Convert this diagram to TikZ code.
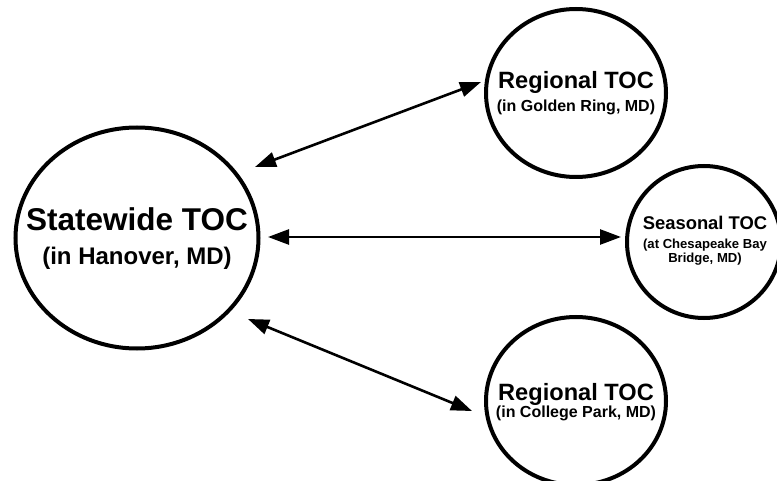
\documentclass[tikz,border=0pt]{standalone}
\usepackage{fontspec}
\setmainfont{Liberation Sans}
\usetikzlibrary{shapes.geometric,arrows.meta}
\begin{document}
\begin{tikzpicture}[x=1pt,y=-1pt,
  toc/.style={draw=black,line width=4pt,ellipse,inner sep=0pt,fill=none},
  lbl/.style={anchor=base,inner sep=0pt,font=\bfseries},
  link/.style={line width=2.6pt,{Triangle[length=21pt,width=15pt]}-{Triangle[length=21pt,width=15pt]}}]
  \useasboundingbox (0,0) rectangle (777,481);

  % centres
  \node[toc,minimum width=243pt,minimum height=221pt] (state) at (137,238) {};
  \node[toc,minimum width=180pt,minimum height=168pt] (golden) at (576,93) {};
  \node[toc,minimum width=154pt,minimum height=152pt] (season) at (704,242) {};
  \node[toc,minimum width=180pt,minimum height=168pt] (college) at (576,401) {};

  % labels
  \node[lbl,font=\bfseries\fontsize{31.5}{36}\selectfont] (stateA) at (137,231) {Statewide TOC};
  \node[lbl,font=\bfseries\fontsize{24}{28}\selectfont] (stateB) at (137,265) {(in Hanover, MD)};

  \node[lbl,font=\bfseries\fontsize{23.6}{28}\selectfont] (goldenA) at (576,89) {Regional TOC};
  \node[lbl,font=\bfseries\fontsize{16}{19}\selectfont] (goldenB) at (576,112) {(in Golden Ring, MD)};

  \node[lbl,font=\bfseries\fontsize{18.4}{22}\selectfont] (seasonA) at (705,230) {Seasonal TOC};
  \node[lbl,font=\bfseries\fontsize{13.1}{15}\selectfont] (seasonB) at (705,249) {(at Chesapeake Bay};
  \node[lbl,font=\bfseries\fontsize{13.1}{15}\selectfont] (seasonC) at (705,263) {Bridge, MD)};

  \node[lbl,font=\bfseries\fontsize{23.6}{28}\selectfont] (collegeA) at (576,400) {Regional TOC};
  \node[lbl,font=\bfseries\fontsize{16}{19}\selectfont] (collegeB) at (576,417) {(in College Park, MD)};

  % connector ends
  \coordinate (sG) at (255,167);
  \coordinate (gS) at (481,82);
  \coordinate (sS) at (268,237);
  \coordinate (tS) at (621,237);
  \coordinate (sC) at (248,319);
  \coordinate (cS) at (472,411);

  \draw[link] (sG) -- (gS);
  \draw[link] (sS) -- (tS);
  \draw[link] (sC) -- (cS);
\end{tikzpicture}
\end{document}
